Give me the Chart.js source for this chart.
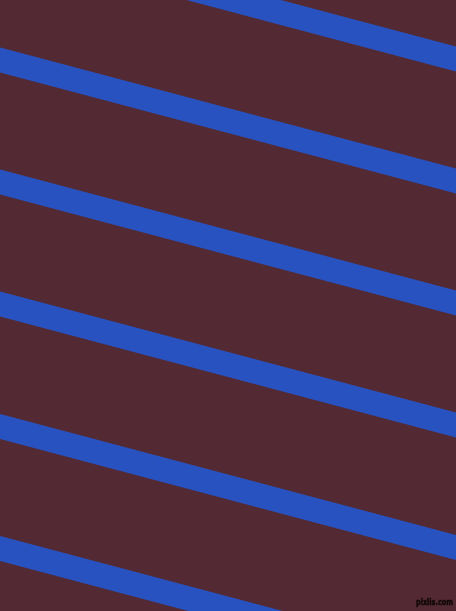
<!DOCTYPE html>
<html>
<head>
<meta charset="utf-8">
<script src="https://cdn.jsdelivr.net/npm/chart.js@4/dist/chart.umd.min.js"></script>
<style>
  html, body { margin: 0; padding: 0; background: #532a33; overflow: hidden; }
  canvas { display: block; }
</style>
</head>
<body>
<canvas id="stripesChart" width="456" height="611"></canvas>
<script>
// stripe centre lines: y where each stripe meets the left and right edge
const edgeX = [0, 456];
const leftY = [-62, 60, 182, 304, 426.5, 548.5];
const rightY = [59, 181, 303, 425, 547.5, 669.5];
const watermark = 'pixlis.com';

const bgPlugin = {
  id: 'bg',
  beforeDraw(chart) {
    const c = chart.ctx;
    c.save();
    c.fillStyle = '#532a33';
    c.fillRect(0, 0, chart.width, chart.height);
    c.restore();
  },
  afterDraw(chart) {
    const c = chart.ctx;
    c.save();
    c.font = 'bold 9px "DejaVu Sans"';
    c.textAlign = 'right';
    c.textBaseline = 'alphabetic';
    c.lineWidth = 1;
    c.strokeStyle = 'rgba(0,0,0,0.4)';
    c.strokeText(watermark, chart.width - 3, chart.height - 6, 37);
    c.fillStyle = '#0e0608';
    c.fillText(watermark, chart.width - 3, chart.height - 6, 37);
    c.restore();
  }
};

function createStripes() {
  const ctx = document.getElementById('stripesChart').getContext('2d');

  new Chart(ctx, {
    type: 'line',
    data: {
      datasets: leftY.map((y, i) => ({
        data: [{ x: edgeX[0], y: y }, { x: edgeX[1], y: rightY[i] }],
        borderColor: '#2852c0',
        borderWidth: 24.2,
        borderCapStyle: 'square',
        pointRadius: 0,
        fill: false,
        tension: 0
      }))
    },
    options: {
      responsive: false,
      animation: false,
      layout: { padding: 0 },
      plugins: {
        legend: { display: false },
        tooltip: { enabled: false },
        title: { display: false }
      },
      scales: {
        x: { type: 'linear', min: 0, max: 456, display: false },
        y: { type: 'linear', min: 0, max: 611, reverse: true, display: false }
      }
    },
    plugins: [bgPlugin]
  });
}

createStripes();
</script>
</body>
</html>
